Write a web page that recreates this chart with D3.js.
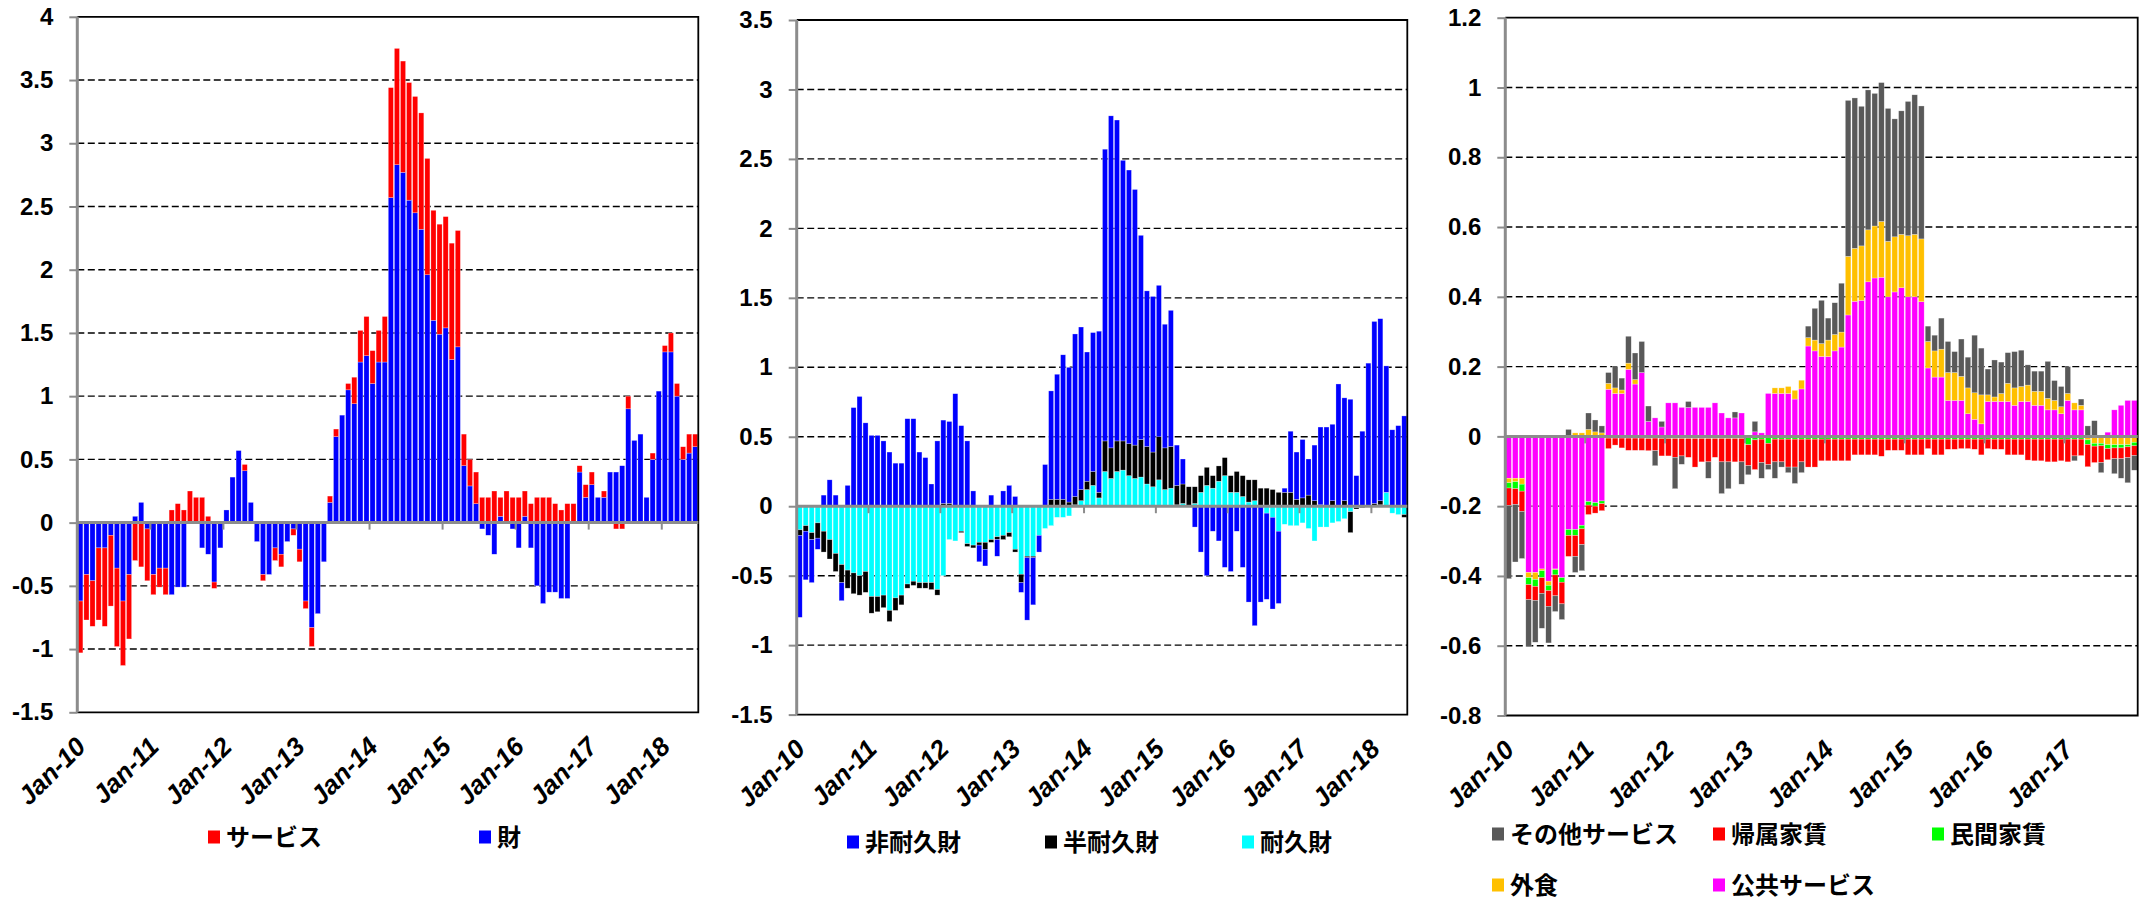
<!DOCTYPE html>
<html><head><meta charset="utf-8">
<script src="https://cdn.jsdelivr.net/npm/d3@7"></script>
<style>body{margin:0;background:#fff} svg{display:block}</style>
</head><body>
<svg id="c" width="2150" height="901"></svg>
<script>
// ---------- categories ----------
const months = d3.timeMonth.range(new Date(2010,0,1), new Date(2018,6,1)).map(d3.timeFormat("%b-%y")); // Jan-10 .. Jun-18
const months3 = months.slice(0,95); // Jan-10 .. Nov-17
const yearLabels1 = ["Jan-10","Jan-11","Jan-12","Jan-13","Jan-14","Jan-15","Jan-16","Jan-17","Jan-18"];
const yearLabels3 = ["Jan-10","Jan-11","Jan-12","Jan-13","Jan-14","Jan-15","Jan-16","Jan-17"];
const yTicks1 = [-1.5,-1,-0.5,0,0.5,1,1.5,2,2.5,3,3.5,4];
const yTicks2 = [-1.5,-1,-0.5,0,0.5,1,1.5,2,2.5,3,3.5];
const yTicks3 = [-0.8,-0.6,-0.4,-0.2,0,0.2,0.4,0.6,0.8,1,1.2];

// ---------- panel 1 : 財 / サービス ----------
const p1Goods = [-0.62,-0.41,-0.46,-0.20,-0.20,-0.10,-0.36,-0.62,-0.41,0.05,
 0.16,-0.05,-0.41,-0.36,-0.36,-0.57,-0.51,-0.51,0,0,
 -0.20,-0.25,-0.47,-0.20,0.10,0.36,0.57,0.41,0.16,-0.15,
 -0.41,-0.41,-0.20,-0.25,-0.15,-0.05,-0.21,-0.62,-0.83,-0.72,
 -0.31,0.16,0.68,0.85,1.05,0.94,1.27,1.32,1.10,1.27,
 1.27,2.57,2.83,2.77,2.55,2.45,2.32,1.96,1.60,1.49,
 1.54,1.29,1.39,0.45,0.29,0.15,-0.05,-0.10,-0.25,0.05,
 0,-0.05,-0.20,0.05,-0.20,-0.50,-0.64,-0.55,-0.55,-0.60,
 -0.60,0,0.40,0.20,0.30,0.20,0.20,0.40,0.40,0.45,
 0.90,0.65,0.70,0.20,0.50,1.04,1.35,1.35,1.00,0.50,
 0.55,0.60];
const p1Services = [-0.41,-0.36,-0.36,-0.57,-0.62,-0.56,-0.62,-0.51,-0.51,-0.30,
 -0.35,-0.41,-0.16,-0.15,-0.21,0.10,0.15,0.10,0.25,0.20,
 0.20,0.05,-0.05,0,0,0,0,0.05,0,0,
 -0.05,0,-0.10,-0.10,0,-0.05,-0.10,-0.06,-0.15,0,
 0,0.05,0.06,0,0.05,0.21,0.25,0.31,0.26,0.25,
 0.36,0.87,0.92,0.88,0.93,0.92,0.92,0.92,0.87,0.87,
 0.88,0.92,0.92,0.25,0.21,0.25,0.20,0.20,0.25,0.15,
 0.25,0.20,0.20,0.20,0.15,0.20,0.20,0.20,0.15,0.10,
 0.15,0.15,0.05,0.10,0.10,0,0.05,0,-0.05,-0.05,
 0.10,0,0,0,0.05,0,0.05,0.15,0.10,0.10,
 0.15,0.10];

// ---------- panel 2 : 非耐久財 / 半耐久財 / 耐久財 ----------
const p2NonDurable = [-0.59,-0.35,-0.31,-0.08,0.08,0.19,0.08,-0.13,0.15,0.71,
 0.79,0.60,0.51,0.51,0.47,0.39,0.31,0.31,0.63,0.63,
 0.39,0.35,0.16,0.47,0.60,0.59,0.81,0.58,0.47,0.11,
 -0.12,-0.12,0.08,-0.12,0.11,0.15,0.07,-0.07,-0.45,-0.34,
 -0.12,0.30,0.78,0.90,1.04,0.97,1.17,1.17,0.93,1.00,
 1.16,2.10,2.39,2.31,2.02,1.97,1.84,1.47,1.12,1.12,
 1.09,0.89,0.98,0.29,0.18,0,-0.15,-0.33,-0.50,-0.18,
 -0.25,-0.44,-0.47,-0.18,-0.44,-0.69,-0.86,-0.69,-0.62,-0.66,
 -0.52,0.03,0.44,0.34,0.42,0.26,0.40,0.56,0.57,0.55,
 0.88,0.74,0.77,0.22,0.54,1.03,1.31,1.31,0.91,0.55,
 0.58,0.65];
const p2SemiDurable = [-0.04,-0.04,-0.05,-0.11,-0.15,-0.14,-0.13,-0.13,-0.13,-0.15,
 -0.14,-0.15,-0.12,-0.11,-0.09,-0.08,-0.09,-0.07,-0.03,-0.03,
 -0.04,-0.04,-0.05,-0.04,0.02,0.02,0,-0.01,-0.02,-0.02,
 -0.02,-0.05,-0.02,-0.02,-0.03,-0.03,-0.02,-0.06,-0.01,-0.01,
 0,0,0.05,0.05,0.05,0.03,0.06,0.08,0.06,0.10,
 0.04,0.22,0.22,0.22,0.21,0.23,0.24,0.27,0.27,0.25,
 0.31,0.30,0.30,0.14,0.14,0.14,0.12,0.12,0.13,0.09,
 0.11,0.13,0.12,0.15,0.15,0.16,0.15,0.13,0.13,0.12,
 0.10,0.10,0.10,0.05,0.06,0.08,0.04,0.01,0,0.04,
 0,0.04,-0.15,-0.01,-0.01,0,0.02,0.03,0,0,
 0,-0.02];
const p2Durable = [-0.17,-0.14,-0.19,-0.12,-0.18,-0.24,-0.34,-0.42,-0.46,-0.48,
 -0.50,-0.47,-0.65,-0.65,-0.64,-0.75,-0.66,-0.64,-0.56,-0.54,
 -0.55,-0.55,-0.55,-0.60,-0.50,-0.24,-0.25,-0.18,-0.27,-0.28,
 -0.26,-0.26,-0.24,-0.22,-0.21,-0.19,-0.31,-0.49,-0.36,-0.36,
 -0.21,-0.16,-0.14,-0.08,-0.08,-0.07,0.01,0.04,0.12,0.15,
 0.06,0.25,0.20,0.25,0.26,0.22,0.20,0.21,0.16,0.14,
 0.19,0.12,0.13,0.01,0.02,0,0.02,0.10,0.15,0.13,
 0.18,0.22,0.10,0.10,0.07,0.03,0.04,0,-0.05,-0.08,
 -0.18,-0.13,-0.14,-0.14,-0.12,-0.16,-0.25,-0.15,-0.15,-0.12,
 -0.11,-0.09,-0.04,-0.01,0,0,0,0.01,0.10,-0.05,
 -0.06,-0.06];

// ---------- panel 3 : services breakdown ----------
const p3Other = [-0.21,-0.165,-0.135,-0.135,-0.12,-0.10,-0.105,-0.045,-0.045,0.02,
 -0.046,-0.075,0.047,0.034,0.02,0.031,0.061,0.034,0.077,0.076,
 0.089,0.044,-0.043,0.016,0,-0.09,-0.024,0.017,0,0,
 -0.047,0,-0.091,-0.077,0.017,-0.064,-0.026,0.03,-0.045,-0.014,
 -0.047,-0.015,-0.016,-0.047,-0.031,0.033,0.091,0.124,0.063,0.091,
 0.14,0.447,0.431,0.40,0.401,0.38,0.398,0.381,0.338,0.354,
 0.385,0.40,0.381,0.044,0.045,0.089,0.089,0.06,0.107,0.088,
 0.165,0.134,0.074,0.106,0.09,0.088,0.104,0.104,0.058,0.058,
 0.058,0.106,0.057,0.058,0.077,-0.014,0.018,0.03,0.045,-0.029,
 0,-0.043,-0.056,-0.072,-0.042];
const p3ImputedRent = [-0.05,-0.045,-0.058,-0.043,-0.04,-0.045,-0.045,-0.06,-0.062,-0.06,
 -0.06,-0.045,-0.027,-0.02,-0.02,-0.03,-0.02,-0.028,-0.035,-0.035,
 -0.035,-0.035,-0.036,-0.05,-0.05,-0.054,-0.05,-0.054,-0.082,-0.067,
 -0.067,-0.054,-0.067,-0.067,-0.067,-0.067,-0.06,-0.085,-0.067,-0.061,
 -0.065,-0.065,-0.08,-0.08,-0.065,-0.08,-0.08,-0.062,-0.062,-0.062,
 -0.062,-0.062,-0.045,-0.045,-0.045,-0.045,-0.049,-0.032,-0.032,-0.032,
 -0.045,-0.045,-0.045,-0.027,-0.045,-0.045,-0.029,-0.029,-0.027,-0.027,
 -0.029,-0.045,-0.027,-0.029,-0.029,-0.045,-0.045,-0.045,-0.06,-0.062,
 -0.062,-0.065,-0.065,-0.062,-0.065,-0.048,-0.047,-0.064,-0.047,-0.048,
 -0.032,-0.031,-0.031,-0.031,-0.028];
const p3PrivateRent = [-0.015,-0.02,-0.02,-0.02,-0.02,-0.02,-0.015,-0.015,-0.013,-0.017,
 -0.017,-0.01,-0.01,-0.01,-0.008,-0.005,-0.005,-0.005,-0.005,-0.005,
 -0.005,-0.006,-0.005,-0.006,-0.006,-0.006,-0.006,-0.006,-0.006,-0.006,
 -0.006,-0.006,-0.006,-0.006,-0.006,-0.006,-0.024,-0.01,-0.008,-0.02,
 -0.008,-0.008,-0.008,-0.008,-0.008,-0.008,-0.008,-0.008,-0.008,-0.008,
 -0.008,-0.008,-0.008,-0.008,-0.008,-0.008,-0.008,-0.008,-0.008,-0.008,
 -0.008,-0.008,-0.008,-0.008,-0.008,-0.008,-0.008,-0.008,-0.008,-0.008,
 -0.008,-0.008,-0.008,-0.008,-0.008,-0.008,-0.008,-0.008,-0.008,-0.008,
 -0.008,-0.008,-0.008,-0.008,-0.008,-0.008,-0.008,-0.013,-0.008,-0.007,
 -0.011,-0.009,-0.009,-0.006,-0.01];
const p3EatingOut = [-0.013,-0.01,-0.017,-0.015,-0.02,-0.005,-0.012,-0.002,0,0,
 0.01,0.01,0.02,0.013,0.01,0.017,0.016,0.01,0.018,0.013,
 0,0,0,0,0,0,0,0,0,0,
 0,0,0,0,0,0,0,0,0,0,
 0.016,0.016,0.02,0.025,0.025,0.024,0.031,0.037,0.047,0.047,
 0.043,0.168,0.152,0.156,0.149,0.149,0.16,0.159,0.158,0.153,
 0.175,0.179,0.18,0.076,0.075,0.08,0.08,0.08,0.069,0.074,
 0.076,0.083,0.019,0.013,0.023,0.052,0.05,0.043,0.047,0.04,
 0.04,0.033,0.027,0.02,0.02,0.02,0.013,-0.01,-0.02,-0.02,
 -0.024,-0.024,-0.024,-0.024,-0.017];
const p3Public = [-0.12,-0.12,-0.12,-0.39,-0.39,-0.38,-0.415,-0.38,-0.405,-0.267,
 -0.267,-0.255,-0.187,-0.19,-0.185,0.135,0.123,0.123,0.192,0.15,
 0.183,0.043,0.053,0.027,0.096,0.096,0.083,0.083,0.083,0.083,
 0.083,0.096,0.067,0.053,0.053,0.067,0,0.013,0.01,0.123,
 0.123,0.123,0.123,0.107,0.136,0.259,0.245,0.229,0.229,0.245,
 0.256,0.348,0.387,0.39,0.443,0.454,0.456,0.40,0.414,0.426,
 0.40,0.40,0.386,0.196,0.17,0.17,0.103,0.103,0.103,0.065,
 0.049,0.036,0.10,0.10,0.10,0.10,0.089,0.10,0.10,0.089,
 0.089,0.076,0.076,0.065,0.103,0.076,0.076,0,0,0,
 0.012,0.076,0.089,0.103,0.103];

// ---------- drawing ----------
const svg = d3.select("#c");
const NUM_FONT = "'Liberation Sans', Arial, sans-serif";
const JP_FONT = "'Noto Sans CJK JP', sans-serif";

function drawPanel(cfg) {
  const {cats, keys, series, colors, left, right, top, bottom, yDomain, yTicks, yearLabels} = cfg;
  const rows = cats.map((c, i) => { const o = {cat: c}; keys.forEach((k, j) => o[k] = series[j][i]); return o; });
  const stacked = d3.stack().keys(keys).offset(d3.stackOffsetDiverging)(rows);
  const x = d3.scaleBand().domain(cats).range([left, right]).paddingInner(0.16).paddingOuter(0.08);
  const y = d3.scaleLinear().domain(yDomain).range([bottom, top]);
  const step = x.step();
  const g = svg.append("g");

  // dashed gridlines
  g.append("g").selectAll("line")
    .data(yTicks.filter(t => t !== 0 && t !== yDomain[0] && t !== yDomain[1]))
    .join("line")
    .attr("x1", left).attr("x2", right)
    .attr("y1", d => y(d)).attr("y2", d => y(d))
    .attr("stroke", "#000").attr("stroke-width", 1.4).attr("stroke-dasharray", "7,3.5");

  // bars
  g.append("g").selectAll("g").data(stacked).join("g")
    .attr("fill", (d, i) => colors[i])
    .selectAll("rect").data(d => d).join("rect")
    .attr("x", d => x(d.data.cat))
    .attr("width", x.bandwidth())
    .attr("y", d => y(Math.max(d[0], d[1])))
    .attr("height", d => Math.abs(y(d[0]) - y(d[1])))
    .attr("stroke", "#ffffff").attr("stroke-opacity", 0.55).attr("stroke-width", 0.5);

  // plot border (top, right, bottom)
  g.append("path")
    .attr("d", `M${left},${top}H${right}V${bottom}H${left}`)
    .attr("fill", "none").attr("stroke", "#000").attr("stroke-width", 1.8);

  // zero line
  g.append("line").attr("x1", left).attr("x2", right).attr("y1", y(0)).attr("y2", y(0))
    .attr("stroke", "#8c8c8c").attr("stroke-width", 3);

  // year boundary ticks on zero line
  const yearCats = cats.filter((c, i) => i % 12 === 0);
  g.append("g").selectAll("line").data(yearCats.slice(1)).join("line")
    .attr("x1", d => x(d) - step * 0.08).attr("x2", d => x(d) - step * 0.08)
    .attr("y1", y(0)).attr("y2", y(0) + 7)
    .attr("stroke", "#8c8c8c").attr("stroke-width", 2);

  // y axis
  const ya = g.append("g").attr("transform", `translate(${left},0)`)
    .call(d3.axisLeft(y).tickValues(yTicks).tickFormat(d => String(d)).tickSize(8).tickPadding(16));
  ya.select(".domain").remove();
  ya.selectAll(".tick line").attr("stroke", "#8c8c8c").attr("stroke-width", 2);
  ya.selectAll(".tick text").attr("font-family", NUM_FONT).attr("font-weight", "bold")
    .attr("font-size", 24).attr("fill", "#000");
  g.append("line").attr("x1", left).attr("x2", left).attr("y1", top).attr("y2", bottom)
    .attr("stroke", "#8c8c8c").attr("stroke-width", 3);

  // x axis labels
  const xa = g.append("g").attr("transform", `translate(0,${bottom})`)
    .call(d3.axisBottom(x).tickValues(yearCats).tickSize(0).tickFormat((d, i) => yearLabels[i]));
  xa.select(".domain").remove();
  xa.selectAll(".tick text")
    .attr("x", 0).attr("y", 0).attr("dy", 0)
    .attr("text-anchor", "end")
    .attr("transform", "translate(7,36) rotate(-45)")
    .attr("font-family", NUM_FONT).attr("font-weight", "bold").attr("font-style", "italic")
    .attr("font-size", 26).attr("fill", "#000");
}

drawPanel({cats: months, keys: ["goods","services"], series: [p1Goods, p1Services],
  colors: ["#0000ff","#ff0000"], left: 77.3, right: 698.3, top: 16.8, bottom: 712.3,
  yDomain: [-1.5, 4], yTicks: yTicks1, yearLabels: yearLabels1});
drawPanel({cats: months, keys: ["durable","semi","nondurable"], series: [p2Durable, p2SemiDurable, p2NonDurable],
  colors: ["#00ffff","#000000","#0000ff"], left: 796.7, right: 1407.3, top: 20, bottom: 714.6,
  yDomain: [-1.5, 3.5], yTicks: yTicks2, yearLabels: yearLabels1});
drawPanel({cats: months3, keys: ["public","eating","private","imputed","other"],
  series: [p3Public, p3EatingOut, p3PrivateRent, p3ImputedRent, p3Other],
  colors: ["#ff00ff","#ffc000","#00ff00","#ff0000","#595959"], left: 1505.3, right: 2137.7, top: 17.7, bottom: 715.5,
  yDomain: [-0.8, 1.2], yTicks: yTicks3, yearLabels: yearLabels3});

// ---------- legends ----------
const legendItems = [
  {label: "サービス", color: "#ff0000", x: 208, y: 837},
  {label: "財", color: "#0000ff", x: 479, y: 837},
  {label: "非耐久財", color: "#0000ff", x: 847, y: 842},
  {label: "半耐久財", color: "#000000", x: 1045, y: 842},
  {label: "耐久財", color: "#00ffff", x: 1242, y: 842},
  {label: "その他サービス", color: "#595959", x: 1492, y: 834},
  {label: "帰属家賃", color: "#ff0000", x: 1713, y: 834},
  {label: "民間家賃", color: "#00ff00", x: 1932, y: 834},
  {label: "外食", color: "#ffc000", x: 1492, y: 885},
  {label: "公共サービス", color: "#ff00ff", x: 1713, y: 885}
];
const lg = svg.append("g").selectAll("g").data(legendItems).join("g")
  .attr("transform", d => `translate(${d.x},${d.y})`);
lg.append("rect").attr("x", 0).attr("y", -6.5).attr("width", 12).attr("height", 13).attr("fill", d => d.color);
lg.append("text").attr("x", 18).attr("y", 0).attr("dy", "0.36em")
  .attr("font-family", JP_FONT).attr("font-weight", "bold").attr("font-size", 24).attr("fill", "#000")
  .text(d => d.label);
</script>
</body></html>
